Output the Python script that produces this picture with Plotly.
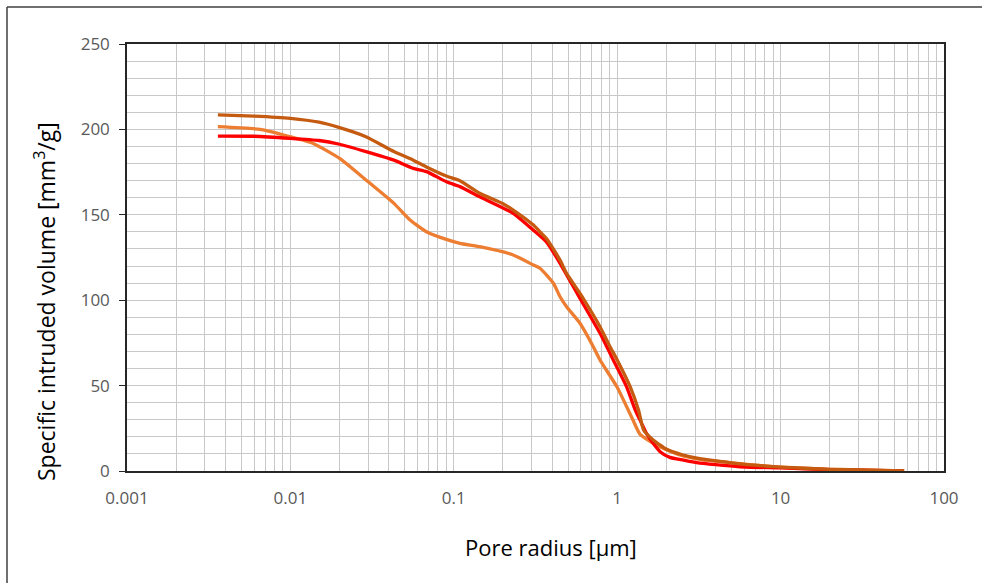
import plotly.graph_objects as go

# Pore radius [µm] and specific intruded volume [mm3/g]
r_brown = [0.0036, 0.006, 0.01, 0.015, 0.02, 0.029, 0.043, 0.0565, 0.068, 0.09, 0.109, 0.144, 0.2, 0.231,
           0.307, 0.337, 0.37, 0.447, 0.49, 0.592, 0.62, 0.785, 0.904, 1.0, 1.2, 1.35, 1.45, 1.66, 2.01,
           2.5, 3.2, 5, 6.5, 10, 20, 35, 57]
v_brown = [208.5, 207.8, 206.5, 204.2, 201, 195.7, 187, 182, 178, 172.7, 170, 162.6, 156.5, 152.8,
           144, 140, 136, 123.5, 115.7, 104, 101, 84.5, 72.8, 65, 49.4, 35.7, 24, 18.2, 12.7,
           9.5, 7.2, 4.8, 3.6, 2.3, 1.0, 0.5, 0.0]

r_red = [0.0036, 0.006, 0.01, 0.015, 0.02, 0.029, 0.043, 0.0565, 0.068, 0.09, 0.109, 0.144, 0.231,
         0.307, 0.37, 0.447, 0.592, 0.785, 0.946, 1.14, 1.29, 1.41, 1.51, 1.66, 1.83, 2.1, 2.54,
         3.07, 4, 5.65, 10, 20, 35, 57]
v_red = [196.1, 196, 194.8, 193.5, 191.3, 187, 182, 177.2, 175.3, 169.4, 166.5, 160.6, 150.9,
         141, 134, 121.6, 101, 80.6, 65, 49.4, 35.7, 27.9, 22, 16.2, 11.3, 8, 6.4,
         4.9, 3.7, 2.5, 1.8, 0.8, 0.4, 0.0]

r_orange = [0.0036, 0.0065, 0.01, 0.0137, 0.02, 0.029, 0.043, 0.054, 0.068, 0.09, 0.109, 0.144, 0.231,
            0.307, 0.337, 0.407, 0.447, 0.49, 0.592, 0.714, 0.785, 1.0, 1.26, 1.38, 1.75, 2.42, 3.21,
            5.65, 10, 20, 35, 57]
v_orange = [201.6, 200, 195.7, 191.9, 183, 170.4, 156.7, 147, 140.1, 135.6, 133.3, 131.3, 126.5,
            120.6, 118.7, 109.9, 102, 96.2, 86.5, 72.8, 65, 49, 29, 21.5, 15, 9.4, 6.8,
            4.3, 2.2, 1.0, 0.5, 0.0]

x_tickvals = [0.001, 0.01, 0.1, 1, 10, 100]
x_ticktext = ["0.001", "0.01", "0.1", "1", "10", "100"]
y_tickvals = [0, 50, 100, 150, 200, 250]
x_title = "Pore radius [µm]"
y_title = "Specific intruded volume [mm<sup>3</sup>/g]"

FONT = "Open Sans"
fig = go.Figure()
for xs, ys, col in [(r_orange, v_orange, "#ED7D31"),
                    (r_red, v_red, "#FF0000"),
                    (r_brown, v_brown, "#C55A11")]:
    fig.add_trace(go.Scatter(x=xs, y=ys, mode="lines",
                             line=dict(color=col, width=3.3, shape="spline", smoothing=0.5),
                             showlegend=False))

grid = "#C8C8C8"
fig.update_layout(
    width=982, height=583,
    margin=dict(l=127, r=38, t=44, b=112),
    paper_bgcolor="white", plot_bgcolor="white",
    font=dict(family=FONT, size=17, color="#595959"),
    xaxis=dict(
        type="log", range=[-3, 2],
        tickvals=x_tickvals, ticktext=x_ticktext,
        showgrid=True, gridcolor=grid, gridwidth=1,
        minor=dict(dtick="D1", showgrid=True, gridcolor=grid, gridwidth=1, ticks=""),
        showline=True, linecolor="#262626", linewidth=1.5, mirror=True,
        ticks="", zeroline=False, ticklabelstandoff=11,
        tickfont=dict(family=FONT, size=17, color="#595959"),
    ),
    yaxis=dict(
        range=[0, 250], tickvals=y_tickvals,
        showgrid=True, gridcolor=grid, gridwidth=1,
        minor=dict(dtick=10, showgrid=True, gridcolor=grid, gridwidth=1),
        showline=True, linecolor="#262626", linewidth=1.5, mirror=True,
        ticks="outside", ticklen=6, tickcolor="#262626", zeroline=False, ticklabelstandoff=6,
        tickfont=dict(family=FONT, size=17, color="#595959"),
    ),
)

# axis titles placed as in the reference (offset from the plot centre)
fig.add_annotation(text=x_title, xref="paper", yref="paper",
                   x=(551 - 127) / 817, y=(471 - 547) / 427, xanchor="center", yanchor="middle",
                   showarrow=False, font=dict(family=FONT, size=22, color="#000000"))
fig.add_annotation(text=y_title, xref="paper", yref="paper", textangle=-90,
                   x=(45 - 127) / 817, y=(471 - 302) / 427, xanchor="center", yanchor="middle",
                   showarrow=False, font=dict(family=FONT, size=23, color="#000000"))

# outer chart border (only left and top edges are visible in the frame)
top = (583 - 112 - 7) / 427
left = (7 - 127) / 817
fig.add_shape(type="line", xref="paper", yref="paper", x0=left, x1=1.2, y0=top, y1=top,
              line=dict(color="#404040", width=1.5))
fig.add_shape(type="line", xref="paper", yref="paper", x0=left, x1=left, y0=-0.4, y1=top,
              line=dict(color="#404040", width=1.5))

fig.write_html("out.html", config={"displayModeBar": False},
               post_script="document.body.style.margin='0';")
